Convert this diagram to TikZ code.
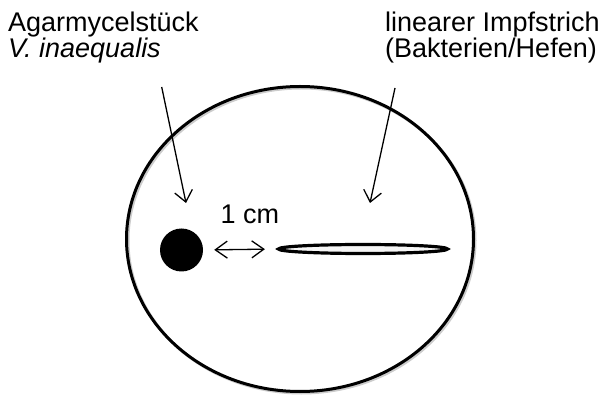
\documentclass[tikz,border=0pt]{standalone}
\usepackage{fontspec}
\setmainfont{Liberation Sans}
\usetikzlibrary{arrows.meta,shapes.geometric}
\begin{document}
\begin{tikzpicture}[x=1pt,y=1pt,yscale=-1,
    lbl/.style={font=\fontsize{27}{26}\selectfont, inner sep=0pt, align=left},
    pointer/.style={-{Straight Barb[length=11pt,width=18pt]}, line width=1.3pt},
    gap/.style={{Straight Barb[length=12pt,width=17pt]}-{Straight Barb[length=12pt,width=17pt]}, line width=1.3pt}]
\useasboundingbox (0,0) rectangle (605,403);
%Petri dish (with faint shadow)
\draw [gray!40, line width=3pt] (301.5,240.5) ellipse [x radius=173.5, y radius=152.5];
\node [ellipse, draw, line width=3pt, minimum width=347, minimum height=305, inner sep=0pt] (dish) at (300,239) {};
%Mycel plug
\node [circle, fill=black, minimum size=43, inner sep=0pt] (plug) at (181.5,250) {};
%Streak
\node [ellipse, draw, line width=3.2pt, fill=gray!8, minimum width=169, minimum height=9, inner sep=0pt] (streak) at (363,249) {};

% Text Node
\node [lbl, anchor=north west] (plugtxt) at (8,11.5) {Agarmycelst\"uck\\\textit{V. inaequalis}};
% Text Node
\node [lbl, anchor=north west] (streaktxt) at (385,11.5) {linearer Impfstrich\\(Bakterien/Hefen)};
% Text Node
\node [lbl, anchor=base] (dist) at (250,224) {1 cm};

%Arrows
\coordinate (plugfrom) at (161.7,87);
\coordinate (plugto) at (186,203);
\coordinate (streakfrom) at (395,88);
\coordinate (streakto) at (370,203);
\draw [pointer] (plugfrom) -- (plugto);
\draw [pointer] (streakfrom) -- (streakto);
\draw [gap, shorten <=11pt, shorten >=12pt] (plug.east) -- (streak.west);
\end{tikzpicture}
\end{document}
